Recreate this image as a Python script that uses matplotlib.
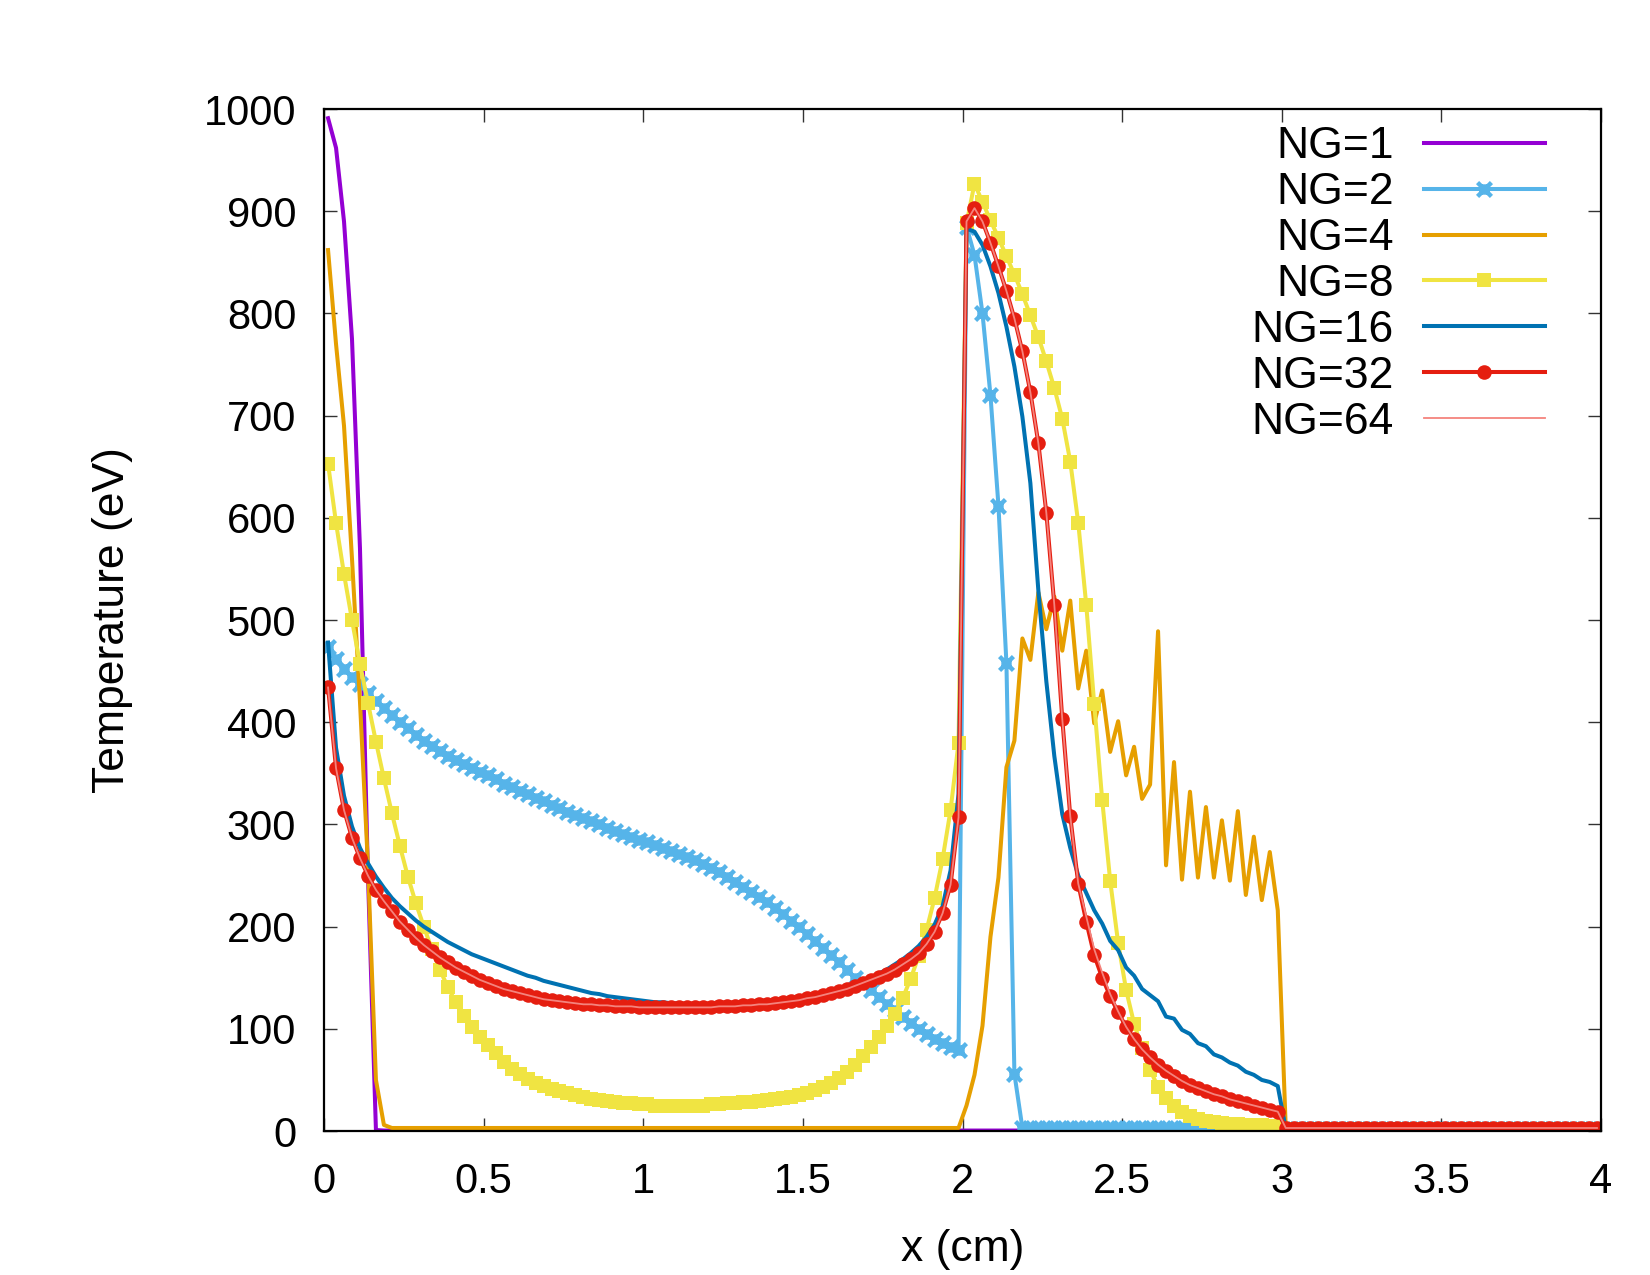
import numpy as np
import matplotlib
matplotlib.use('Agg')
import matplotlib.pyplot as plt
from matplotlib.path import Path

# ---------------- data (cell centres, dx = 0.025 cm, 160 cells) ----------------
n_cells = 160
dx = 0.025
x_cm = (np.arange(n_cells) + 0.5) * dx

ng1 = [991, 962, 890, 775, 570, 250, 1] + [0.5] * 153

ng2 = ([474, 462, 452, 444, 437, 429, 421, 414, 407, 400,
        394, 388, 382, 377, 372, 367, 363, 359, 355, 351,
        348, 344, 340, 337, 333, 330, 326, 323, 319, 316,
        312, 309, 306, 303, 300, 297, 294, 291, 288, 285,
        283, 280, 277, 274, 271, 268, 265, 261, 257, 253,
        249, 244, 239, 234, 229, 224, 218, 212, 206, 200,
        193, 186, 179, 172, 165, 158, 150, 144, 138, 131,
        124, 118, 112, 106, 100, 95, 90, 86, 82, 79,
        885, 857, 800, 720, 612, 458, 56]
       + [3] * 33 + [2] * 40)

ng4 = ([862, 770, 690, 560, 420, 260, 50, 6] + [3] * 72 +
       [25, 55, 103, 190, 248, 356, 382, 482, 461, 527,
        491, 523, 470, 519, 433, 470, 399, 431, 371, 401,
        348, 376, 325, 339, 489, 260, 361, 246, 332, 248,
        317, 248, 304, 245, 313, 231, 288, 226, 273, 216]
       + [3] * 40)

ng8 = ([653, 595, 545, 500, 457, 419, 381, 345, 311, 279,
        249, 223, 200, 178, 158, 141, 126, 113, 102, 92,
        84, 76, 68, 61, 56, 51, 47, 44, 41, 39,
        37, 35, 33, 31, 30, 29, 28, 27, 27, 26,
        26, 25, 25, 25, 25, 25, 25, 25, 26, 26,
        27, 27, 28, 28, 29, 30, 31, 32, 33, 35,
        37, 40, 43, 47, 52, 58, 65, 73, 82, 92,
        103, 115, 130, 149, 171, 197, 228, 266, 314, 380,
        888, 927, 909, 891, 874, 856, 838, 819, 798, 777,
        753, 727, 697, 655, 595, 515, 418, 324, 245, 184,
        138, 105, 81, 60, 43, 32, 25, 19, 15, 12,
        10, 9, 8, 7, 7, 6, 6, 6, 5, 5]
       + [2] * 40)

ng16 = ([478, 375, 328, 298, 277, 262, 249, 238, 228, 220,
         213, 206, 200, 195, 190, 185, 181, 177, 173, 170,
         167, 164, 161, 158, 155, 152, 150, 147, 145, 143,
         141, 139, 137, 135, 134, 132, 131, 130, 129, 128,
         127, 126, 126, 125, 125, 124, 124, 124, 124, 124,
         124, 124, 124, 125, 125, 126, 127, 128, 129, 130,
         132, 133, 135, 137, 139, 141, 144, 147, 150, 154,
         158, 163, 168, 174, 181, 190, 202, 220, 255, 330,
         883, 880, 867, 846, 820, 787, 748, 699, 634, 529,
         440, 367, 310, 277, 250, 233, 216, 203, 186, 177,
         160, 152, 139, 133, 127, 112, 110, 99, 95, 86,
         83, 75, 72, 67, 64, 58, 55, 50, 48, 44]
        + [2] * 40)

ng32 = ([434, 355, 314, 287, 267, 250, 236, 225, 215, 205,
         197, 189, 182, 176, 170, 165, 160, 156, 152, 148,
         145, 142, 139, 137, 135, 133, 131, 129, 128, 127,
         126, 125, 124, 124, 123, 123, 122, 122, 122, 121,
         121, 121, 121, 121, 121, 121, 121, 121, 121, 122,
         122, 122, 123, 123, 124, 124, 125, 126, 127, 128,
         130, 131, 133, 135, 137, 139, 142, 145, 148, 151,
         154, 158, 163, 168, 174, 183, 195, 213, 241, 307,
         890, 903, 890, 869, 846, 822, 795, 763, 723, 673,
         605, 515, 403, 308, 242, 205, 172, 150, 132, 116,
         102, 90, 80, 72, 65, 59, 54, 49, 45, 42,
         39, 36, 34, 31, 29, 27, 25, 23, 21, 19]
        + [3] * 40)

ng64 = ([434, 355, 314, 287, 267, 250, 236, 225, 215, 205,
         197, 189, 182, 176, 170, 165, 160, 156, 152, 148,
         145, 142, 139, 137, 135, 133, 131, 129, 128, 127,
         126, 125, 124, 124, 123, 123, 122, 122, 122, 121,
         121, 121, 121, 121, 121, 121, 121, 121, 121, 122,
         122, 122, 123, 123, 124, 124, 125, 126, 127, 128,
         130, 131, 133, 135, 137, 139, 142, 145, 148, 151,
         154, 158, 163, 168, 174, 183, 195, 213, 241, 307,
         890, 903, 890, 869, 846, 822, 795, 763, 723, 673,
         605, 515, 403, 308, 242, 210, 178, 155, 134, 117,
         102, 90, 80, 72, 65, 59, 54, 49, 45, 42,
         39, 36, 34, 31, 29, 27, 25, 23, 21, 19]
        + [3] * 40)

labels = ['NG=1', 'NG=2', 'NG=4', 'NG=8', 'NG=16', 'NG=32', 'NG=64']
x_ticks = [0, 0.5, 1, 1.5, 2, 2.5, 3, 3.5, 4]
x_tick_labels = ['0', '0.5', '1', '1.5', '2', '2.5', '3', '3.5', '4']
y_ticks = [0, 100, 200, 300, 400, 500, 600, 700, 800, 900, 1000]

# gnuplot-like "*" point: x plus a shorter +
star_path = Path(
    [(-1, -1), (1, 1), (-1, 1), (1, -1), (-0.75, 0), (0.75, 0), (0, -0.75), (0, 0.75)],
    [Path.MOVETO, Path.LINETO] * 4)

# ---------------- figure ----------------
plt.rcParams['font.family'] = ['Liberation Sans', 'DejaVu Sans']
fig = plt.figure(figsize=(16.5, 12.75), dpi=100)
ax = fig.add_axes([0.1964, 0.1129, 0.7739, 0.8016])

lw = 2.9
ax.plot(x_cm, ng1, color='#9400D3', lw=lw, label=labels[0])
ax.plot(x_cm, ng2, color='#56B4E9', lw=lw, marker=star_path, ms=10,
        mew=3.2, mec='#56B4E9', mfc='none', label=labels[1])
ax.plot(x_cm, ng4, color='#E69F00', lw=lw, label=labels[2])
ax.plot(x_cm, ng8, color='#F0E442', lw=lw, marker='s', ms=10, mew=0,
        label=labels[3])
ax.plot(x_cm, ng16, color='#0072B2', lw=lw, label=labels[4])
ax.plot(x_cm, ng32, color='#E51E10', lw=lw, marker='o', ms=10.5, mew=0,
        label=labels[5])
ax.plot(x_cm, ng64, color='#F4837D', lw=1.3, label=labels[6])

ax.set_xlim(0, 4)
ax.set_ylim(0, 1000)
ax.set_xticks(x_ticks)
ax.set_xticklabels(x_tick_labels)
ax.set_yticks(y_ticks)
ax.tick_params(direction='in', length=9.5, width=1.0, top=True, right=True,
               labelsize=30, color='#333333')
ax.tick_params(axis='x', pad=22)
ax.tick_params(axis='y', pad=20)
for s in ax.spines.values():
    s.set_linewidth(1.6)
    s.set_color('black')

ax.set_xlabel('x (cm)', fontsize=32, labelpad=20)
ax.set_ylabel('Temperature (eV)', fontsize=32, labelpad=51)

ax.legend(loc='upper right', bbox_to_anchor=(0.956, 0.983), frameon=False,
          fontsize=32, markerfirst=False, handlelength=2.72,
          handletextpad=0.68, labelspacing=0.11, borderpad=0,
          borderaxespad=0, numpoints=1)

fig.savefig('out.png', dpi=100)
